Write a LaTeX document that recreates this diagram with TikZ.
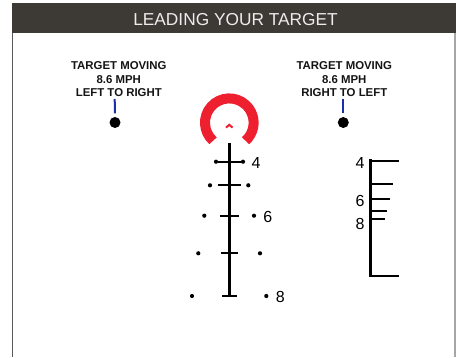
\documentclass[tikz,border=0pt]{standalone}
\usepackage{fontspec}
\setmainfont{Liberation Sans}
\definecolor{hdr}{HTML}{3D3935}
\definecolor{sightred}{HTML}{EE2030}
\definecolor{leadblue}{HTML}{1B2FA8}
\tikzset{
  x=1pt,y=-1pt,
  labeltext/.style={align=center,font=\fontsize{11.4}{13.5}\selectfont\bfseries,inner sep=0pt,text=black!92},
  num/.style={font=\fontsize{16}{16}\selectfont,inner sep=0pt,text=black},
  bigdot/.style={circle,fill=black,minimum size=11pt,inner sep=0pt},
  smalldot/.style={circle,fill=black,minimum size=4.2pt,inner sep=0pt},
  leader/.style={draw=leadblue,line width=2pt,shorten >=3.5pt},
  stem/.style={draw=black,line width=2.7pt},
  tick/.style={draw=black,line width=2.3pt},
}
\begin{document}
\begin{tikzpicture}
\useasboundingbox (0,0) rectangle (456,357);
% frame
\draw[line width=1.6pt,draw=black!65] (12.5,3) -- (12.5,357);
\draw[line width=1.3pt,draw=black!35] (455,33) -- (455,357);
\fill[hdr] (11.7,3) rectangle (456,33);
\node[font=\fontsize{17.3}{20}\selectfont,text=white!93!black,inner sep=0pt] (title) at (235.5,20) {LEADING YOUR TARGET};
% target labels
\node[labeltext] (lblL) at (118.8,79.5) {TARGET MOVING\\8.6 MPH\\LEFT TO RIGHT};
\node[labeltext] (lblR) at (344.3,79.5) {TARGET MOVING\\8.6 MPH\\RIGHT TO LEFT};
\node[bigdot] (dotL) at (115,122.5) {};
\node[bigdot] (dotR) at (343.3,122.5) {};
\coordinate (leadL) at (114.7,99);
\coordinate (leadR) at (343.3,99);
\draw[leader] (leadL) -- (dotL.north);
\draw[leader] (leadR) -- (dotR.north);
% red ring and chevron
\draw[sightred,line width=10pt] (213.04,140.76) arc[start angle=228,end angle=-48,radius=24.3pt];
\draw[sightred,line width=2pt,miter limit=4] (226,127.6) -- (229.3,124.8) -- (232.6,127.6);
% reticle
\coordinate (stemT) at (229.2,143);
\coordinate (stemB) at (229.2,296);
\draw[stem] (stemT) -- (stemB);
% row 4
\node[smalldot] (a1) at (216,161.7) {};
\node[smalldot] (a2) at (243,161.7) {};
\draw[draw=black,line width=2pt] (a1) -- (a2);
\node[num] (n4) at (256,162.5) {4};
% row 2
\draw[tick] (217.7,185.3) -- (241,185.3);
\node[smalldot] at (210,185.3) {};
\node[smalldot] at (248.3,185.3) {};
% row 6
\draw[tick] (219.7,215.7) -- (239.3,215.7);
\node[smalldot] at (204.3,215.7) {};
\node[smalldot] at (254,215.7) {};
\node[num] (n6) at (267.7,216.5) {6};
% row 3
\draw[tick] (221,253.3) -- (238,253.3);
\node[smalldot] at (198.3,253.3) {};
\node[smalldot] at (260,253.3) {};
% row 8
\draw[tick] (222,296) -- (236.7,296);
\node[smalldot] at (192,296) {};
\node[smalldot] at (266.3,296) {};
\node[num] (n8) at (280.3,296.5) {8};
% ruler
\draw[stem,line cap=rect] (370.3,160.7) -- (370.3,275.7);
\draw[tick] (370.3,160.7) -- (399.3,160.7);
\draw[tick] (370.3,184.3) -- (393.3,184.3);
\draw[tick] (370.3,199.3) -- (389.7,199.3);
\draw[tick] (370.3,210.7) -- (387,210.7);
\draw[tick] (370.3,219.3) -- (384.7,219.3);
\draw[tick] (370.3,275.7) -- (399.3,275.7);
\node[num] (r4) at (360,162.5) {4};
\node[num] (r6) at (360,200.5) {6};
\node[num] (r8) at (360,224) {8};
\end{tikzpicture}
\end{document}
